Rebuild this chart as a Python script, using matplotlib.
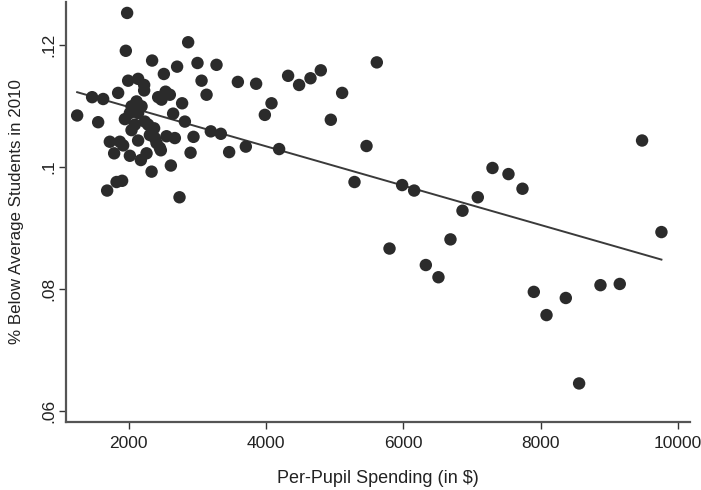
import numpy as np
import matplotlib
matplotlib.use("Agg")
import matplotlib.pyplot as plt

plt.rcParams['font.family'] = ['Liberation Sans', 'DejaVu Sans']

# per-pupil spending ($) and share of below-average students
spending = [
    1247, 1465, 1626, 1553, 1844, 1975, 1956, 1990, 2135, 2223,
    2223, 2339, 2510, 2703, 3000, 2864, 3277, 3059, 2427, 2535,
    2597, 2476, 3132, 2776, 2112, 2039, 2185, 2135, 2015, 1942,
    2645, 2816, 2087, 2039, 2233, 2281, 2368, 3194, 2306, 2379,
    2403, 2452, 2466, 2549, 2670, 2942, 2135, 1723, 1869, 1917,
    2899, 1786, 2015, 2258, 2175, 2612, 2331, 1821, 1902, 1684,
    2738, 3340, 3461, 3704, 4189, 3588, 3854, 4320, 4480, 4646,
    4796, 4078, 3981, 5612, 5107, 4942, 5462, 5287, 5981, 6156,
    7297, 7530, 7734, 7083, 6860, 6685, 5797, 6326, 6510, 7899,
    8084, 9476, 9758, 8365, 8870, 9151, 8559,
]
below_avg = [
    0.1084, 0.1114, 0.1111, 0.1073, 0.1121, 0.1252, 0.1190, 0.1141, 0.1144, 0.1134,
    0.1125, 0.1174, 0.1152, 0.1164, 0.1170, 0.1204, 0.1167, 0.1141, 0.1114, 0.1123,
    0.1118, 0.1110, 0.1118, 0.1104, 0.1107, 0.1099, 0.1099, 0.1088, 0.1088, 0.1078,
    0.1087, 0.1074, 0.1069, 0.1060, 0.1074, 0.1069, 0.1063, 0.1058, 0.1052, 0.1047,
    0.1039, 0.1031, 0.1027, 0.1050, 0.1047, 0.1049, 0.1043, 0.1041, 0.1041, 0.1035,
    0.1023, 0.1022, 0.1018, 0.1022, 0.1011, 0.1002, 0.0992, 0.0975, 0.0977, 0.0961,
    0.0950, 0.1054, 0.1024, 0.1033, 0.1029, 0.1139, 0.1136, 0.1149, 0.1134, 0.1145,
    0.1158, 0.1104, 0.1085, 0.1171, 0.1121, 0.1077, 0.1034, 0.0975, 0.0970, 0.0961,
    0.0998, 0.0988, 0.0964, 0.0950, 0.0928, 0.0881, 0.0866, 0.0839, 0.0819, 0.0795,
    0.0757, 0.1043, 0.0893, 0.0785, 0.0806, 0.0808, 0.0645,
]

x_ticks = [2000, 4000, 6000, 8000, 10000]
y_ticks = [0.06, 0.08, 0.10, 0.12]
y_tick_labels = ['.06', '.08', '.1', '.12']

x = np.array(spending)
y = np.array(below_avg)

fig = plt.figure(figsize=(7.01, 4.90), dpi=100)
ax = fig.add_axes([0.094, 0.139, 0.89, 0.857])

ax.scatter(x, y, s=80, color='#2b2b2b', edgecolors='none', zorder=3)

# linear fit over the observed range
slope, intercept = np.polyfit(x, y, 1)
xs = np.array([x.min(), x.max()])
ax.plot(xs, intercept + slope * xs, color='#3a3a3a', lw=1.4, zorder=2)

ax.set_xlim(1083, 10171)
ax.set_ylim(0.0582, 0.127)
ax.set_xticks(x_ticks)
ax.set_yticks(y_ticks)
ax.set_yticklabels(y_tick_labels, rotation=90, va='center')

for side in ['top', 'right']:
    ax.spines[side].set_visible(False)
for side in ['left', 'bottom']:
    ax.spines[side].set_color('#555555')
    ax.spines[side].set_linewidth(1.6)
ax.tick_params(colors='#333333', labelcolor='#222222', labelsize=12.5,
               length=5, width=1.0, direction='out')
ax.tick_params(axis='x', pad=5.5)
ax.tick_params(axis='y', pad=1.5)

ax.set_xlabel('Per-Pupil Spending (in $)', fontsize=13, color='#222222', labelpad=13)
ax.set_ylabel('% Below Average Students in 2010', fontsize=12.2, color='#222222', labelpad=13)

fig.savefig('out.png', dpi=100)
